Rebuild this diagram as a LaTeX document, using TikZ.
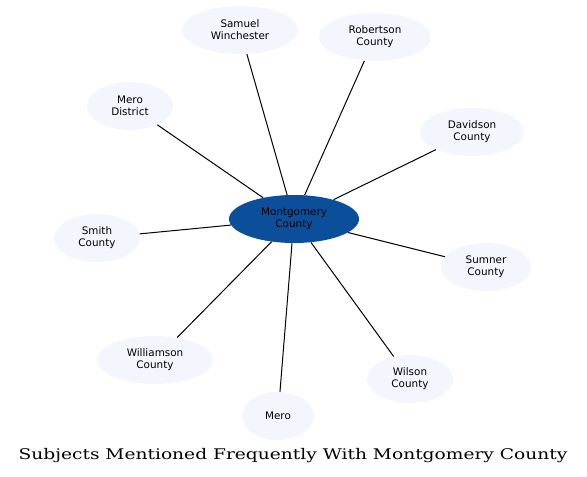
\documentclass[tikz,border=0pt]{standalone}
\usepackage{fontspec}
\usetikzlibrary{shapes.geometric}
\newfontfamily\lbl{DejaVu Sans}
\newfontfamily\ttl[FakeStretch=1.27]{DejaVu Serif}
\definecolor{hub}{RGB}{11,79,155}
\definecolor{leaf}{RGB}{243,247,253}
\begin{document}
\begin{tikzpicture}[x=0.75pt,y=-0.75pt,
  leafnode/.style={ellipse,fill=leaf,draw=none,align=center,font=\lbl\fontsize{7.8}{9}\selectfont,inner sep=0pt},
  hubnode/.style={ellipse,fill=hub,draw=none,align=center,font=\lbl\fontsize{7.8}{9}\selectfont,inner sep=0pt},
  conn/.style={draw=black,line width=0.75pt}]
\useasboundingbox (0,0) rectangle (587,477);
\node[hubnode,minimum width=130*0.75pt,minimum height=48*0.75pt] (mc) at (294,219) {Montgomery\\County};
\node[leafnode,minimum width=116*0.75pt,minimum height=48*0.75pt] (sw) at (240,30) {Samuel\\Winchester};
\node[leafnode,minimum width=112*0.75pt,minimum height=48*0.75pt] (rc) at (375,37) {Robertson\\County};
\node[leafnode,minimum width=86*0.75pt,minimum height=48*0.75pt] (md) at (130,106) {Mero\\District};
\node[leafnode,minimum width=104*0.75pt,minimum height=48*0.75pt] (dc) at (472,132) {Davidson\\County};
\node[leafnode,minimum width=86*0.75pt,minimum height=48*0.75pt] (sc) at (97,238) {Smith\\County};
\node[leafnode,minimum width=90*0.75pt,minimum height=48*0.75pt] (su) at (486,267) {Sumner\\County};
\node[leafnode,minimum width=116*0.75pt,minimum height=48*0.75pt] (wc) at (155,360) {Williamson\\County};
\node[leafnode,minimum width=86*0.75pt,minimum height=48*0.75pt] (wi) at (410,379) {Wilson\\County};
\node[leafnode,minimum width=72*0.75pt,minimum height=48*0.75pt] (me) at (278,416) {Mero};
\foreach \n in {sw,rc,md,dc,sc,su,wc,wi,me} \draw[conn] (mc) -- (\n);
\node[font=\ttl\fontsize{11}{13}\selectfont,inner sep=0pt] (title) at (293,456) {Subjects Mentioned Frequently With Montgomery County};
\end{tikzpicture}
\end{document}
